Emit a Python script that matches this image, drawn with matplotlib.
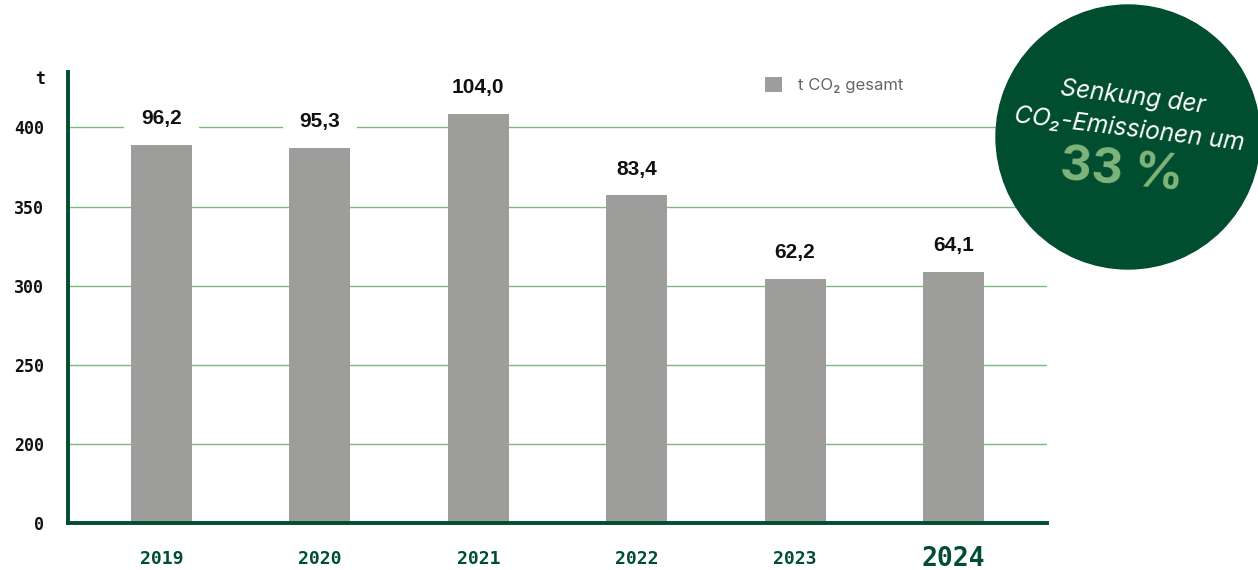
import matplotlib.pyplot as plt
from matplotlib.patches import Circle

years = ['2019', '2020', '2021', '2022', '2023', '2024']
values = [96.2, 95.3, 104.0, 83.4, 62.2, 64.1]
value_labels = ['96,2', '95,3', '104,0', '83,4', '62,2', '64,1']
tick_pos = [0, 20, 40, 60, 80, 100]
tick_labels = ['0', '200', '250', '300', '350', '400']

dark = '#004d30'
grid_green = '#7dbb7b'
bar_grey = '#9d9d9b'
light_green = '#7fb57a'

W, H = 1258, 570
fig = plt.figure(figsize=(W / 100, H / 100), dpi=100)
ax = fig.add_axes([68 / W, 1 - 523 / H, (1047 - 68) / W, (523 - 72) / H])

x = list(range(len(years)))
ax.bar(x, values, width=0.385, color=bar_grey, zorder=2, label='t CO\u2082 gesamt')
ax.set_xlim(-0.59, 5.59)
ax.set_ylim(0, 114.0)

for yv in tick_pos[1:]:
    ax.axhline(yv, color=grid_green, lw=1.0, zorder=1)

for xi, v, lab in zip(x, values, value_labels):
    ax.annotate(lab, (xi, v), xytext=(0, 24), textcoords='offset pixels',
                ha='center', va='center', fontsize=15, fontweight='bold',
                family='Liberation Sans', color='#111111', zorder=4,
                bbox=dict(boxstyle='square,pad=0.8', fc='white', ec='none'))

for s in ['top', 'right']:
    ax.spines[s].set_visible(False)
for s in ['left', 'bottom']:
    ax.spines[s].set_color(dark)
    ax.spines[s].set_linewidth(2.8)

ax.set_yticks(tick_pos)
ax.set_yticklabels(tick_labels, family='DejaVu Sans Mono', fontweight='bold',
                   fontsize=12, color='#111111')
ax.tick_params(axis='y', length=0, pad=17)
ax.set_xticks(x)
ax.set_xticklabels(years, family='DejaVu Sans Mono', fontweight='bold',
                   fontsize=13, color=dark, va='center')
ax.get_xticklabels()[-1].set_fontsize(19)
ax.tick_params(axis='x', length=0, pad=26)

leg = ax.legend(loc='center left', bbox_to_anchor=(750 / W, 1 - 85 / H),
                bbox_transform=fig.transFigure, frameon=False,
                handlelength=1.0, handleheight=1.0, handletextpad=1.0,
                prop={'family': 'Inter', 'size': 12})
for t in leg.get_texts():
    t.set_color('#666666')

ov = fig.add_axes([0, 0, 1, 1], zorder=5)
ov.set_xlim(0, W)
ov.set_ylim(H, 0)
ov.axis('off')
ov.text(40, 79, 't', ha='center', va='center', family='DejaVu Sans Mono',
        fontweight='bold', fontsize=12, color='#111111')
ov.add_patch(Circle((1128, 137), 132, color=dark))
ov.text(1133, 97, 'Senkung der', rotation=-7, ha='center', va='center',
        color='white', fontsize=17.5, style='italic', family='Inter')
ov.text(1129, 130, 'CO\u2082-Emissionen um', rotation=-7, ha='center', va='center',
        color='white', fontsize=17.5, style='italic', family='Inter')
ov.text(1122, 171, '33 %', rotation=-5, ha='center', va='center',
        color=light_green, fontsize=35, fontweight='bold', family='Inter')

fig.savefig('out.png', dpi=100)
